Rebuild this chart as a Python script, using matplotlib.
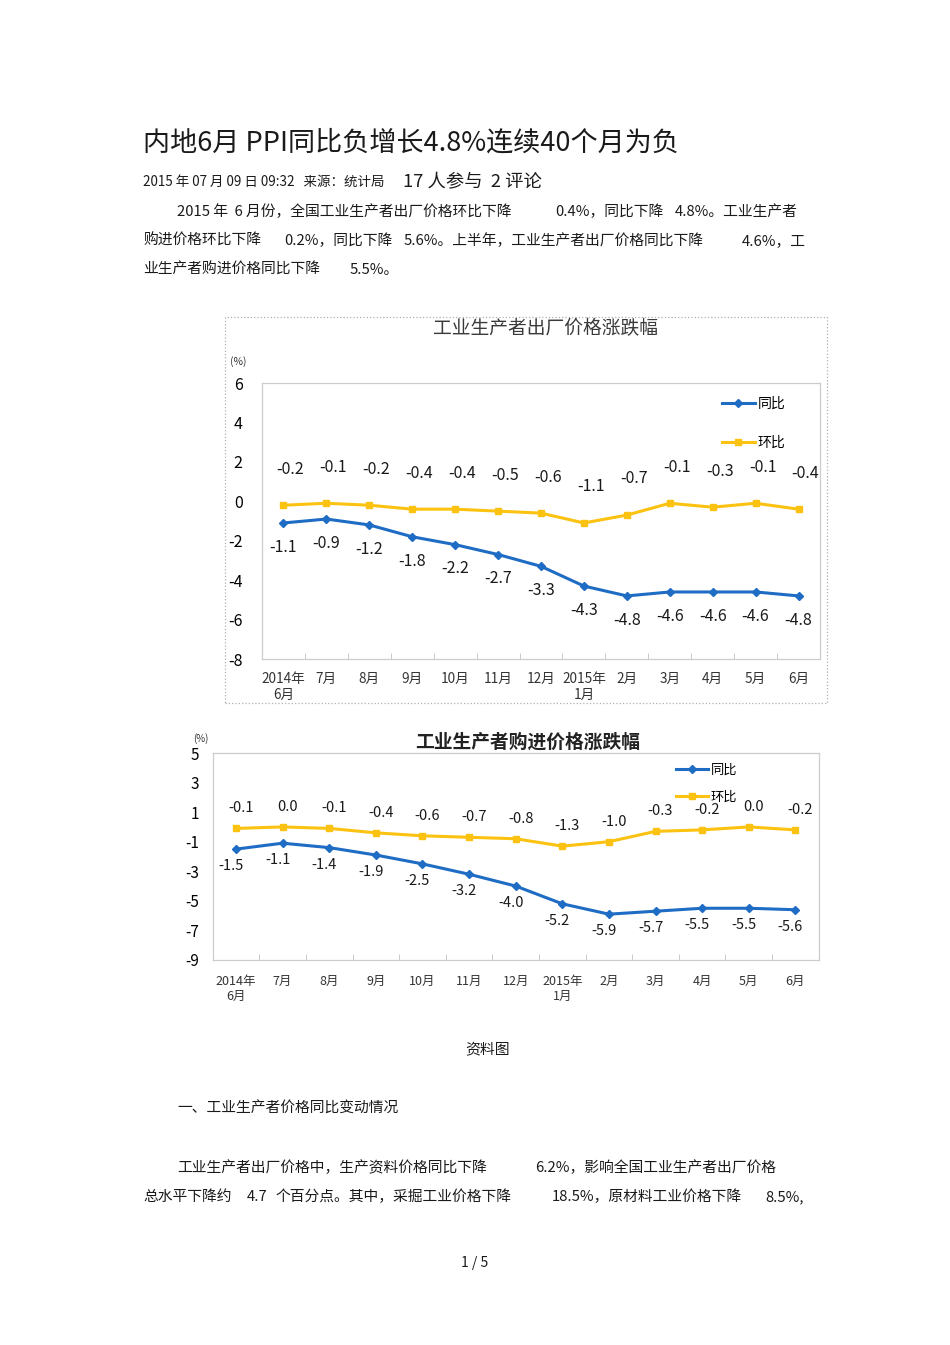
import matplotlib.pyplot as plt
from matplotlib.patches import Rectangle

plt.rcParams['font.family'] = ['Noto Sans CJK SC', 'DejaVu Sans']
plt.rcParams['axes.unicode_minus'] = False

W, H = 950, 1345

# data
months = ['2014年\n6月', '7月', '8月', '9月', '10月', '11月', '12月',
          '2015年\n1月', '2月', '3月', '4月', '5月', '6月']
out_yoy = [-1.1, -0.9, -1.2, -1.8, -2.2, -2.7, -3.3, -4.3, -4.8, -4.6, -4.6, -4.6, -4.8]
out_mom = [-0.2, -0.1, -0.2, -0.4, -0.4, -0.5, -0.6, -1.1, -0.7, -0.1, -0.3, -0.1, -0.4]
buy_yoy = [-1.5, -1.1, -1.4, -1.9, -2.5, -3.2, -4.0, -5.2, -5.9, -5.7, -5.5, -5.5, -5.6]
buy_mom = [-0.1, 0.0, -0.1, -0.4, -0.6, -0.7, -0.8, -1.3, -1.0, -0.3, -0.2, 0.0, -0.2]
out_yticks = [-8, -6, -4, -2, 0, 2, 4, 6]
buy_yticks = [-9, -7, -5, -3, -1, 1, 3, 5]

BLUE = '#1f6cc4'
YELLOW = '#fcc211'
INK = '#1a1a1a'


def fx(x):
    return x / W


def fy(y):
    return 1 - y / H


fig = plt.figure(figsize=(W / 100, H / 100), dpi=100)


def txt(x, y, s, size=10.7, **kw):
    # +2 px: va='center' sits a little high for CJK glyphs
    kw.setdefault('color', INK)
    fig.text(fx(x), fy(y + 2), s, fontsize=size, va='center', **kw)


def draw_chart(ax, yoy, mom, yticks, fs, tick_fs, xtick_fs, ypad, xpad,
               mom_off, yoy_off, leg_xy, leg_fs, leg_sp):
    x = list(range(len(months)))
    ax.plot(x, yoy, color=BLUE, lw=2.2, marker='D', ms=4.5, label='同比', zorder=3)
    ax.plot(x, mom, color=YELLOW, lw=2.2, marker='s', ms=5, label='环比', zorder=3)
    ax.set_xlim(-0.5, len(months) - 0.5)
    ax.set_ylim(yticks[0], yticks[-1])
    ax.set_yticks(yticks)
    ax.set_xticks(x)
    ax.set_xticklabels(months, color='#333333')
    ax.set_xticks([i + 0.5 for i in range(len(months) - 1)], minor=True)
    ax.tick_params(axis='x', which='major', length=0, pad=xpad, labelsize=xtick_fs)
    ax.tick_params(axis='x', which='minor', length=4, direction='in', color='#c0c0c0')
    ax.tick_params(axis='y', length=0, pad=ypad, labelsize=tick_fs)
    for s in ax.spines.values():
        s.set_color('#cccccc')
        s.set_linewidth(0.9)
    for i, v in enumerate(mom):
        ax.annotate(f'{v:.1f}', (i, v), xytext=mom_off, textcoords='offset points',
                    ha='center', va='center', fontsize=fs, color=INK)
    for i, v in enumerate(yoy):
        ax.annotate(f'{v:.1f}', (i, v), xytext=yoy_off, textcoords='offset points',
                    ha='center', va='center', fontsize=fs, color=INK)
    ax.legend(loc='upper left', bbox_to_anchor=leg_xy, frameon=False, borderpad=0,
              borderaxespad=0, handlelength=2.4, handletextpad=0.2,
              labelspacing=leg_sp, fontsize=leg_fs)


# page text
txt(143, 141, '内地6月 PPI同比负增长4.8%连续40个月为负', size=19.5)
txt(143, 180, '2015 年 07 月 09 日 09:32   来源：统计局', size=9.7)
txt(403, 180, '17 人参与  2 评论', size=13.2)

body_top = [
    (210, [(177, '2015 年  6 月份，全国工业生产者出厂价格环比下降'), (555, '0.4%，同比下降'),
           (675, '4.8%。工业生产者')]),
    (239, [(143, '购进价格环比下降'), (284, '0.2%，同比下降'),
           (404, '5.6%。上半年，工业生产者出厂价格同比下降'), (742, '4.6%，工')]),
    (268, [(143, '业生产者购进价格同比下降'), (350, '5.5%。')]),
]
body_bottom = [
    (1107, [(177, '一、工业生产者价格同比变动情况')]),
    (1166, [(177, '工业生产者出厂价格中，生产资料价格同比下降'),
            (535, '6.2%，影响全国工业生产者出厂价格')]),
    (1195, [(143, '总水平下降约'), (247, '4.7'), (276, '个百分点。其中，采掘工业价格下降'),
            (552, '18.5%，原材料工业价格下降'), (765, '8.5%,')]),
]
for y, segs in body_top + body_bottom:
    for x, s in segs:
        txt(x, y, s, size=10.65)

txt(488, 1048, '资料图', size=10.7, ha='center')
txt(475, 1261, '1 / 5', size=10, ha='center')

# chart 1: 出厂价格
fig.add_artist(Rectangle((fx(225), fy(703)), 602 / W, 386 / H, transform=fig.transFigure,
                         fill=False, ls=':', ec='#b0b0b0', lw=0.9))
ax1 = fig.add_axes([fx(262), fy(659), 558 / W, 276 / H])
draw_chart(ax1, out_yoy, out_mom, out_yticks, fs=11.5, tick_fs=11.5, xtick_fs=9.8,
           ypad=14, xpad=9, mom_off=(5, 26), yoy_off=(0, -17.5),
           leg_xy=(0.824, 0.95), leg_fs=10, leg_sp=1.8)
txt(546, 327, '工业生产者出厂价格涨跌幅', size=13.5, ha='center', color='#3a3a3a')
txt(238, 360, '(%)', size=7.5, ha='center', color='#333333')

# chart 2: 购进价格
ax2 = fig.add_axes([fx(212.7), fy(960), 606 / W, 207 / H])
draw_chart(ax2, buy_yoy, buy_mom, buy_yticks, fs=10.5, tick_fs=11, xtick_fs=9,
           ypad=10, xpad=11, mom_off=(3.6, 14.5), yoy_off=(-3.6, -12.2),
           leg_xy=(0.765, 0.95), leg_fs=9.5, leg_sp=1.07)
txt(528, 740, '工业生产者购进价格涨跌幅', size=13.5, ha='center', color='#222222',
    fontweight='bold')
txt(201, 737, '(%)', size=7, ha='center', color='#333333')

fig.savefig('out.png', dpi=100)
